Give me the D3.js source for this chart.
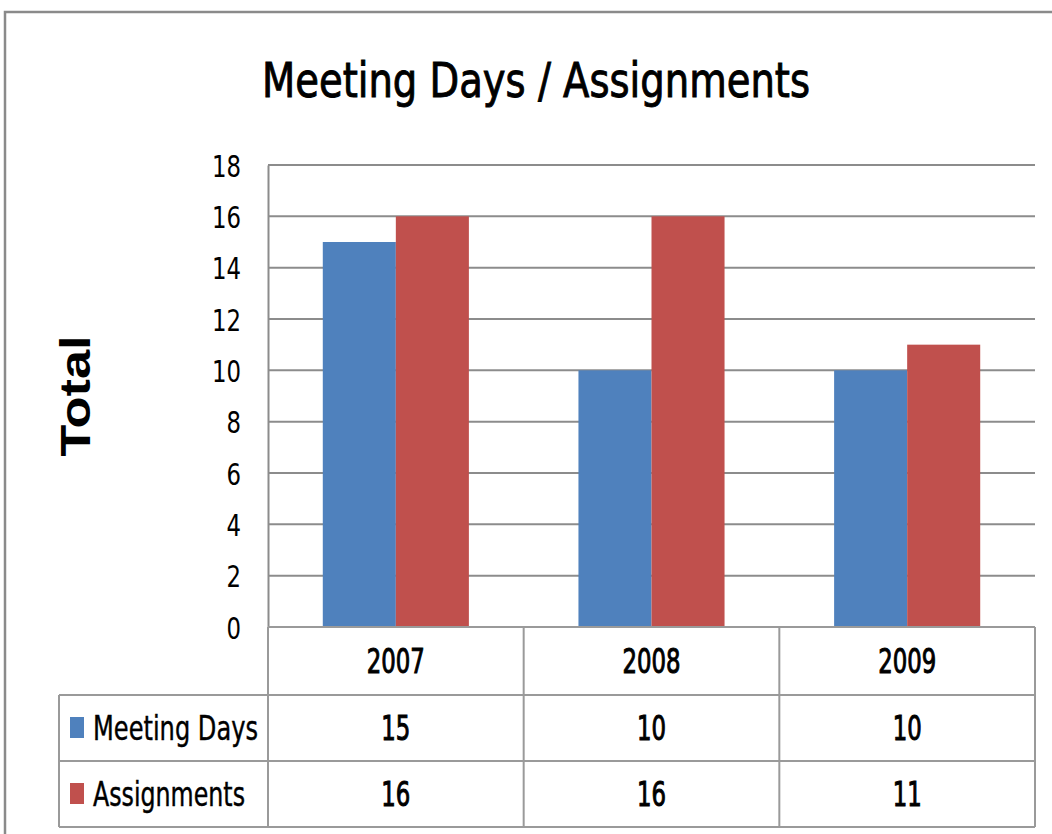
<!DOCTYPE html>
<html>
<head>
<meta charset="utf-8">
<script src="https://cdn.jsdelivr.net/npm/d3@7"></script>
<style>
  body { margin: 0; background: #fff; }
  text { font-family: "DejaVu Sans Condensed", "Liberation Sans Narrow", sans-serif; fill: #000; }
  .grid line { stroke: #8c8c8c; stroke-width: 2; }
  .tbl line { stroke: #9a9a9a; stroke-width: 2; }
</style>
</head>
<body>
<div id="chart"></div>
<script>
var years = ["2007", "2008", "2009"];
var series = ["Meeting Days", "Assignments"];
var meetingDays = [15, 10, 10];
var assignments = [16, 16, 11];
var yTicks = [0, 2, 4, 6, 8, 10, 12, 14, 16, 18];
var colors = ["#4f81bd", "#c0504d"];

var W = 1052, H = 834;
var plot = {left: 268, right: 1035, top: 165, bottom: 627};
var rowY = [627, 695, 761, 827]; // table row edges
var legendLeft = 59;
var digitW = 14.5; // squeezed look of the original font

var values = [meetingDays, assignments];

function squeeze(sel, w) {
    sel.attr("lengthAdjust", "spacingAndGlyphs")
       .attr("textLength", function(d) { return String(d).length * w; });
}

var svg = d3.select("#chart").append("svg").attr("width", W).attr("height", H);

// outer chart border (only top and left visible)
svg.append("rect").attr("x", 5).attr("y", 12).attr("width", 1200).attr("height", 1000)
    .attr("fill", "none").attr("stroke", "#8a8a8a").attr("stroke-width", 2.5);

svg.append("text").attr("x", 536).attr("y", 97).attr("text-anchor", "middle")
    .attr("font-size", 48).attr("textLength", 548).attr("lengthAdjust", "spacingAndGlyphs")
    .attr("stroke", "#000").attr("stroke-width", 0.9)
    .text("Meeting Days / Assignments");

var x = d3.scaleBand().domain(years).range([plot.left, plot.right]).paddingInner(0).paddingOuter(0);
var x1 = d3.scaleBand().domain(series).range([0, x.bandwidth()]).paddingInner(0).paddingOuter(0.75);
var y = d3.scaleLinear().domain([0, 18]).range([plot.bottom, plot.top]);

// gridlines
var grid = svg.append("g").attr("class", "grid");
grid.selectAll("line.h").data(yTicks.slice(1)).enter().append("line")
    .attr("x1", plot.left).attr("x2", plot.right)
    .attr("y1", function(d) { return y(d); }).attr("y2", function(d) { return y(d); });

// y axis
var yAxis = svg.append("g").attr("transform", "translate(" + plot.left + ",0)")
    .call(d3.axisLeft(y).tickValues(yTicks).tickSize(0).tickPadding(27));
yAxis.select(".domain").attr("stroke", "#8c8c8c").attr("stroke-width", 2);
yAxis.selectAll("text").attr("font-size", 31).attr("font-family", null).attr("dy", "0.36em")
    .call(squeeze, digitW);

svg.append("text").attr("transform", "translate(90,396) rotate(-90)")
    .attr("text-anchor", "middle").attr("font-size", 42).attr("font-weight", "bold")
    .attr("textLength", 121).attr("lengthAdjust", "spacingAndGlyphs")
    .style("font-family", "'Liberation Sans', Arial, sans-serif")
    .text("Total");

// bars
series.forEach(function(s, si) {
    svg.append("g").selectAll("rect").data(values[si]).enter().append("rect")
        .attr("x", function(d, i) { return x(years[i]) + x1(s); })
        .attr("width", x1.bandwidth())
        .attr("y", function(d) { return y(d); })
        .attr("height", function(d) { return y(0) - y(d); })
        .attr("fill", colors[si]);
});

// data table
var tbl = svg.append("g").attr("class", "tbl");
tbl.append("line").attr("x1", plot.left).attr("x2", plot.right).attr("y1", rowY[0]).attr("y2", rowY[0]);
[rowY[1], rowY[2], rowY[3]].forEach(function(ry) {
    tbl.append("line").attr("x1", legendLeft).attr("x2", plot.right).attr("y1", ry).attr("y2", ry);
});
tbl.append("line").attr("x1", legendLeft).attr("x2", legendLeft).attr("y1", rowY[1]).attr("y2", rowY[3]);
tbl.selectAll("line.v").data(years.concat(["end"])).enter().append("line")
    .attr("x1", function(d) { return d === "end" ? plot.right : x(d); })
    .attr("x2", function(d) { return d === "end" ? plot.right : x(d); })
    .attr("y1", rowY[0]).attr("y2", rowY[3]);

svg.append("g").selectAll("text").data(years).enter().append("text")
    .attr("x", function(d) { return x(d) + x.bandwidth() / 2; })
    .attr("y", (rowY[0] + rowY[1]) / 2).attr("dy", "0.36em")
    .attr("text-anchor", "middle").attr("font-size", 34)
    .attr("stroke", "#000").attr("stroke-width", 1)
    .text(function(d) { return d; })
    .call(squeeze, digitW);

var legendW = [165, 152];
series.forEach(function(s, si) {
    var cy = (rowY[si + 1] + rowY[si + 2]) / 2;
    svg.append("rect").attr("x", 70).attr("y", cy - 11).attr("width", 14).attr("height", 21)
        .attr("fill", colors[si]);
    svg.append("text").attr("x", 93).attr("y", cy).attr("dy", "0.36em")
        .attr("font-size", 33).attr("textLength", legendW[si]).attr("lengthAdjust", "spacingAndGlyphs")
        .attr("stroke", "#000").attr("stroke-width", 0.4)
        .text(s);
    svg.append("g").selectAll("text").data(values[si]).enter().append("text")
        .attr("x", function(d, i) { return x(years[i]) + x.bandwidth() / 2; })
        .attr("y", cy).attr("dy", "0.36em")
        .attr("text-anchor", "middle").attr("font-size", 34)
        .attr("stroke", "#000").attr("stroke-width", 1)
        .text(function(d) { return d; })
        .call(squeeze, digitW);
});
</script>
</body>
</html>
